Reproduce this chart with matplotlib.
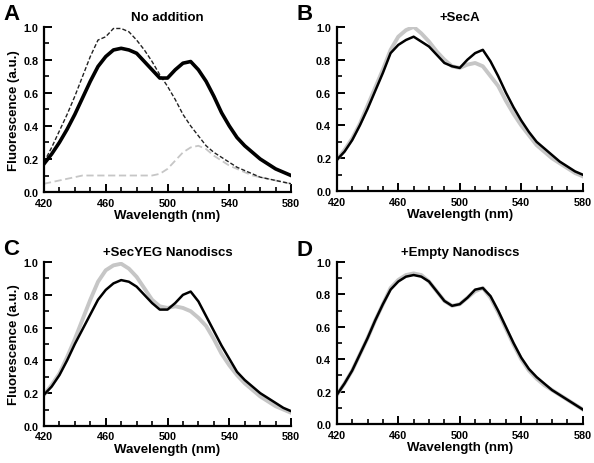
import numpy as np
import matplotlib.pyplot as plt
from matplotlib.ticker import MultipleLocator

plt.rcParams['font.family'] = ['Liberation Sans', 'DejaVu Sans']
plt.rcParams['font.weight'] = 'bold'

# --- Data (5 nm steps) ---
wl = np.arange(420, 581, 5)

# A: No addition
a_black = [0.17, 0.23, 0.30, 0.38, 0.47, 0.57, 0.67, 0.76, 0.82, 0.86, 0.87, 0.86, 0.84,
           0.79, 0.74, 0.69, 0.69, 0.74, 0.78, 0.79, 0.74, 0.67, 0.58, 0.48, 0.40, 0.33,
           0.28, 0.24, 0.20, 0.17, 0.14, 0.12, 0.10]
a_dashed = [0.18, 0.27, 0.37, 0.47, 0.58, 0.70, 0.82, 0.92, 0.94, 0.99, 0.99, 0.97, 0.92,
            0.86, 0.79, 0.71, 0.64, 0.56, 0.47, 0.40, 0.34, 0.28, 0.24, 0.21, 0.18, 0.15,
            0.13, 0.11, 0.09, 0.08, 0.07, 0.06, 0.05]
a_gray = [0.05, 0.06, 0.07, 0.08, 0.09, 0.10, 0.10, 0.10, 0.10, 0.10, 0.10, 0.10, 0.10,
          0.10, 0.10, 0.11, 0.14, 0.19, 0.24, 0.27, 0.28, 0.26, 0.22, 0.19, 0.16, 0.14,
          0.12, 0.10, 0.09, 0.08, 0.07, 0.06, 0.05]

# B: +SecA
b_black = [0.19, 0.24, 0.31, 0.40, 0.50, 0.61, 0.72, 0.84, 0.89, 0.92, 0.94, 0.91, 0.88,
           0.83, 0.78, 0.76, 0.75, 0.80, 0.84, 0.86, 0.79, 0.70, 0.60, 0.51, 0.43, 0.36,
           0.30, 0.26, 0.22, 0.18, 0.15, 0.12, 0.10]
b_gray = [0.19, 0.25, 0.32, 0.41, 0.52, 0.63, 0.74, 0.86, 0.94, 0.98, 1.00, 0.96, 0.91,
          0.85, 0.80, 0.76, 0.75, 0.77, 0.78, 0.76, 0.70, 0.64, 0.55, 0.47, 0.40, 0.34,
          0.28, 0.24, 0.20, 0.17, 0.14, 0.11, 0.09]

# C: +SecYEG Nanodiscs
c_black = [0.19, 0.24, 0.31, 0.40, 0.50, 0.59, 0.68, 0.77, 0.83, 0.87, 0.89, 0.88, 0.85,
           0.80, 0.75, 0.71, 0.71, 0.75, 0.80, 0.82, 0.76, 0.67, 0.58, 0.49, 0.41, 0.33,
           0.28, 0.24, 0.20, 0.17, 0.14, 0.11, 0.09]
c_gray = [0.19, 0.25, 0.32, 0.42, 0.53, 0.65, 0.77, 0.88, 0.95, 0.98, 0.99, 0.96, 0.91,
          0.84, 0.77, 0.73, 0.72, 0.73, 0.72, 0.70, 0.66, 0.61, 0.53, 0.44, 0.37, 0.31,
          0.26, 0.22, 0.18, 0.15, 0.12, 0.10, 0.08]

# D: +Empty Nanodiscs
d_black = [0.18, 0.25, 0.33, 0.43, 0.53, 0.64, 0.74, 0.83, 0.88, 0.91, 0.92, 0.91, 0.88,
           0.82, 0.76, 0.73, 0.74, 0.78, 0.83, 0.84, 0.79, 0.70, 0.60, 0.50, 0.41, 0.34,
           0.29, 0.25, 0.21, 0.18, 0.15, 0.12, 0.09]
d_gray = [0.18, 0.25, 0.33, 0.43, 0.53, 0.64, 0.74, 0.84, 0.89, 0.92, 0.93, 0.92, 0.88,
          0.82, 0.76, 0.73, 0.74, 0.78, 0.82, 0.84, 0.78, 0.69, 0.59, 0.49, 0.40, 0.33,
          0.28, 0.24, 0.21, 0.18, 0.15, 0.12, 0.09]

x_ticks = [420, 460, 500, 540, 580]
GRAY = '#c6c6c6'

fig = plt.figure(figsize=(5.94, 4.64), dpi=100)

boxes = {
    'A': [0.074, 0.584, 0.416, 0.356],
    'B': [0.567, 0.586, 0.414, 0.354],
    'C': [0.074, 0.080, 0.416, 0.353],
    'D': [0.567, 0.084, 0.414, 0.349],
}
titles = {'A': 'No addition', 'B': '+SecA', 'C': '+SecYEG Nanodiscs', 'D': '+Empty Nanodiscs'}


def style(ax, letter, ylabel):
    ax.set_xlim(420, 580)
    ax.set_ylim(0, 1.0)
    ax.spines['top'].set_visible(False)
    ax.spines['right'].set_visible(False)
    ax.spines['left'].set_linewidth(1.6)
    ax.spines['bottom'].set_linewidth(1.6)
    ax.set_xticks(x_ticks)
    ax.xaxis.set_minor_locator(MultipleLocator(10))
    ax.yaxis.set_major_locator(MultipleLocator(0.2))
    ax.yaxis.set_minor_locator(MultipleLocator(0.1))
    ax.yaxis.set_major_formatter(plt.FormatStrFormatter('%.1f'))
    ax.tick_params(which='major', direction='in', length=6, width=1.4, labelsize=7.8, pad=4)
    ax.tick_params(which='minor', direction='in', length=3.5, width=1.2)
    ax.set_xlabel('Wavelength (nm)', fontsize=9.5, fontweight='bold', labelpad=1)
    if ylabel:
        ax.set_ylabel('Fluorescence (a.u.)', fontsize=9.5, fontweight='bold', labelpad=2)
    ax.set_title(titles[letter], fontsize=9.5, fontweight='bold', pad=5)
    ax.text(-0.165, 1.08, letter, transform=ax.transAxes, fontsize=16,
            fontweight='bold', ha='left', va='center')


axA = fig.add_axes(boxes['A'])
axA.plot(wl, a_gray, color=GRAY, lw=1.3, ls=(0, (4, 2)))
axA.plot(wl, a_dashed, color='#222222', lw=1.0, ls=(0, (3, 1.5)))
axA.plot(wl, a_black, color='black', lw=2.6)
style(axA, 'A', True)

axB = fig.add_axes(boxes['B'])
axB.plot(wl, b_gray, color=GRAY, lw=2.8)
axB.plot(wl, b_black, color='black', lw=1.8)
style(axB, 'B', False)

axC = fig.add_axes(boxes['C'])
axC.plot(wl, c_gray, color=GRAY, lw=2.8)
axC.plot(wl, c_black, color='black', lw=1.8)
style(axC, 'C', True)

axD = fig.add_axes(boxes['D'])
axD.plot(wl, d_gray, color=GRAY, lw=2.8)
axD.plot(wl, d_black, color='black', lw=1.8)
style(axD, 'D', False)

fig.savefig('out.png', dpi=100)
